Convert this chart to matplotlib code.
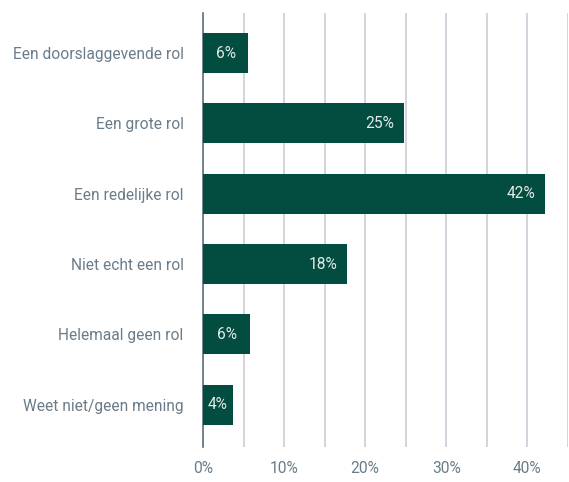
import matplotlib
matplotlib.use("Agg")
import matplotlib.pyplot as plt
from matplotlib.ticker import MultipleLocator, FuncFormatter

categories = ["Een doorslaggevende rol", "Een grote rol", "Een redelijke rol",
              "Niet echt een rol", "Helemaal geen rol", "Weet niet/geen mening"]
values = [5.6, 24.8, 42.2, 17.8, 5.8, 3.7]
labels = ["6%", "25%", "42%", "18%", "6%", "4%"]

BAR = "#034c40"
TEXT = "#6a7c89"
GRID = "#c9ced5"

plt.rcParams["font.family"] = ["Roboto", "DejaVu Sans"]

fig = plt.figure(figsize=(5.69, 4.82), dpi=100)
ax = fig.add_axes([0.3568, 0.073, 0.6412, 0.900])

ys = range(len(categories))
ax.barh(ys, values, height=0.57, color=BAR, zorder=3)
for y, v, lab in zip(ys, values, labels):
    if v < 8:
        ax.text(v / 2, y, lab, ha="center", va="center", color="#e3ebe9",
                fontsize=11.2, zorder=4)
    else:
        ax.text(v - 1.2, y, lab, ha="right", va="center", color="#e3ebe9",
                fontsize=11.2, zorder=4)

ax.set_xlim(0, 45)
ax.set_ylim(5.6, -0.57)
ax.set_yticks(list(ys))
ax.set_yticklabels(categories)
ax.xaxis.set_major_locator(MultipleLocator(10))
ax.xaxis.set_minor_locator(MultipleLocator(5))
ax.xaxis.set_major_formatter(FuncFormatter(lambda x, p: f"{x:.0f}%" if x < 45 else ""))
ax.grid(axis="x", which="both", color=GRID, linewidth=1.2, zorder=0)
ax.tick_params(axis="both", which="both", length=0, colors=TEXT, labelsize=11.2)
ax.tick_params(axis="y", pad=14)
ax.tick_params(axis="x", pad=10)
for s in ["top", "right", "bottom"]:
    ax.spines[s].set_visible(False)
ax.spines["left"].set_color("#5d6f7c")
ax.spines["left"].set_linewidth(1.2)

fig.savefig("out.png", dpi=100)
